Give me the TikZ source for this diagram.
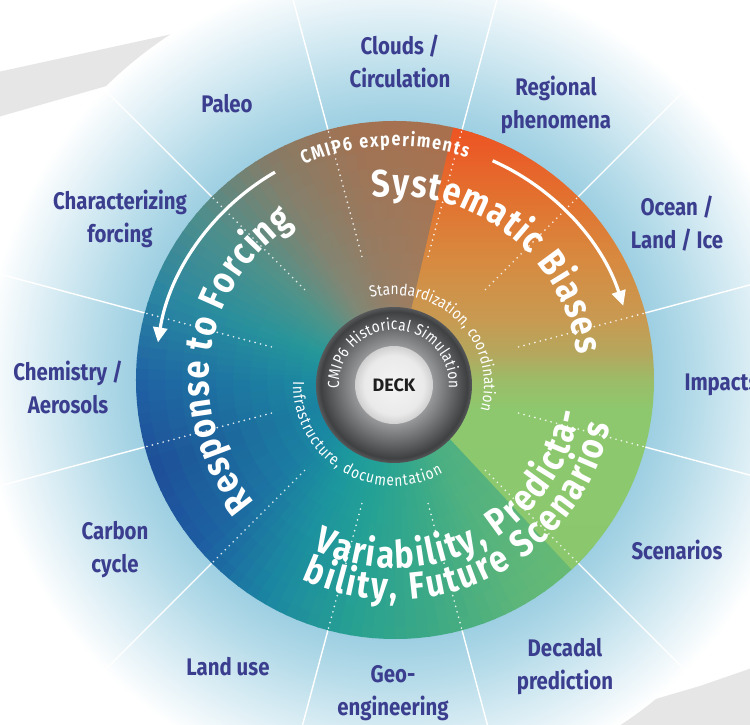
\documentclass[tikz,border=0pt]{standalone}
\usepackage{fontspec}
\setmainfont{Fira Sans}[FakeStretch=0.85]
\newfontfamily\deckfamily{Fira Sans}
\usetikzlibrary{arrows.meta}
\usetikzlibrary{decorations.text}

\definecolor{labelblue}{HTML}{3B3E8E}
\definecolor{swoosh}{HTML}{E6E6E6}
\definecolor{glowin}{HTML}{9DCFE2}
\definecolor{glowmid}{HTML}{B5DBE9}
\definecolor{glowpale}{HTML}{D6EBF3}
\definecolor{ringlight}{HTML}{96989A}
\definecolor{ringdark}{HTML}{3E4042}
\definecolor{ringedge}{HTML}{56585A}
\definecolor{deckin}{HTML}{F4F4F4}
\definecolor{deckmid}{HTML}{EAEAEA}
\definecolor{deckedge}{HTML}{D0D0D0}
\definecolor{deckink}{HTML}{1E1E1E}
% colours round the disc: outer rim / near the ring
\definecolor{out60}{HTML}{B0704C}  \definecolor{in60}{HTML}{A08060}
\definecolor{out80}{HTML}{A8704E}  \definecolor{in80}{HTML}{9C7E62}
\definecolor{out100}{HTML}{A27252} \definecolor{in100}{HTML}{90806A}
\definecolor{out120}{HTML}{857C68} \definecolor{in120}{HTML}{7E8A78}
\definecolor{out140}{HTML}{4E8E8C} \definecolor{in140}{HTML}{4D968A}
\definecolor{out160}{HTML}{2B86A2} \definecolor{in160}{HTML}{259A98}
\definecolor{out180}{HTML}{1F62A4} \definecolor{in180}{HTML}{1C8EA0}
\definecolor{out200}{HTML}{1E4F98} \definecolor{in200}{HTML}{1A88A2}
\definecolor{out220}{HTML}{1D5CA2} \definecolor{in220}{HTML}{1A8EA2}
\definecolor{out240}{HTML}{1B86A2} \definecolor{in240}{HTML}{1C9C9C}
\definecolor{out260}{HTML}{27A092} \definecolor{in260}{HTML}{24A296}
\definecolor{out280}{HTML}{3FAA84} \definecolor{in280}{HTML}{34A88C}
\definecolor{out300}{HTML}{5EB678} \definecolor{in300}{HTML}{48AE84}
\definecolor{out320}{HTML}{6CBC72} \definecolor{in320}{HTML}{52B080}
% systematic biases sector, top to bottom
\definecolor{sba}{HTML}{EE5322}
\definecolor{sbb}{HTML}{EA5C27}
\definecolor{sbc}{HTML}{E2722F}
\definecolor{sbd}{HTML}{D78A40}
\definecolor{sbe}{HTML}{C89A52}
\definecolor{sbf}{HTML}{B3A85E}
\definecolor{sbg}{HTML}{9CBC68}
\definecolor{sbh}{HTML}{8DC86E}
\definecolor{sbi}{HTML}{8AC86C}

\pgfdeclareradialshading{glow}{\pgfpoint{0bp}{0bp}}{color(0bp)=(glowin); color(15.7bp)=(glowin); color(18.2bp)=(glowmid); color(21.2bp)=(glowpale); color(25bp)=(white); color(50bp)=(white)}
\pgfdeclareverticalshading{biasshade}{100bp}{color(0bp)=(sbi); color(25bp)=(sbi); color(47.1bp)=(sbh); color(50bp)=(sbg); color(52.4bp)=(sbf); color(55.8bp)=(sbe); color(61.6bp)=(sbd); color(67.4bp)=(sbc); color(72.2bp)=(sbb); color(75bp)=(sba); color(100bp)=(sba)}
\pgfdeclareradialshading{ringshade}{\pgfpoint{0bp}{0bp}}{color(0bp)=(ringlight); color(12.5bp)=(ringlight); color(23.5bp)=(ringdark); color(25bp)=(ringedge); color(50bp)=(ringedge)}
\pgfdeclareradialshading{deckshade}{\pgfpoint{0bp}{0bp}}{color(0bp)=(deckin); color(19bp)=(deckmid); color(25bp)=(deckedge); color(50bp)=(deckedge)}

\newcommand\lblfont{\bfseries\fontsize{24}{33}\selectfont}
\newcommand\bigarcfont{\bfseries\fontsize{38}{38}\selectfont}
\newcommand\midarcfont{\bfseries\fontsize{19}{19}\selectfont}
\newcommand\smallarcfont{\fontsize{16}{16}\selectfont}
\newcommand\ringfont{\fontsize{16}{16}\selectfont}
\newcommand\deckfont{\deckfamily\bfseries\fontsize{18}{18}\selectfont}

\tikzset{
  lbl/.style={text=labelblue, font=\lblfont, align=center},
  spoke/.style={white, line width=1.4pt},
  dotline/.style={white, line width=1.9pt, line cap=round, dash pattern=on 0pt off 5.6pt, opacity=.85},
  arctext/.style={decorate, decoration={text along path, text color=white, text align=fit to path}},
  turnarrow/.style={white, line width=3.2pt, -{Triangle[length=15pt,width=14pt]}}
}

\begin{document}
\begin{tikzpicture}[x=1pt,y=1pt]
\useasboundingbox (-395,-345) rectangle (355,380);
\fill[white] (-395,-345) rectangle (355,380);
% grey swooshes and the pale blue glow
\fill[swoosh] (-397,308) -- (-195,352) -- (25,382) -- (165,382) -- (-285,295) -- (-397,263) -- cycle;
\fill[swoosh] (165,-347) -- (305,-306) -- (357,-288) -- (357,-347) -- cycle;
\shade[shading=glow] (0,0) circle (412);
\foreach \ang in {15,45,...,345}
  \draw[spoke] (\ang:258) -- (\ang:412);

% research themes
\node[lbl] (clouds) at (5,319) {Clouds /\\Circulation};
\node[lbl] (regional) at (161,275) {Regional\\phenomena};
\node[lbl] (ocean) at (282,156) {Ocean /\\Land / Ice};
\node[lbl, anchor=west] (impacts) at (286,-5) {Impacts};
\node[lbl] (scenarios) at (282,-170) {Scenarios};
\node[lbl] (decadal) at (170,-287) {Decadal\\prediction};
\node[lbl] (geo) at (-2,-313) {Geo-\\engineering};
\node[lbl] (landuse) at (-167,-287) {Land use};
\node[lbl] (carbon) at (-280,-170) {Carbon\\cycle};
\node[lbl] (chemistry) at (-327,-7) {Chemistry /\\Aerosols};
\node[lbl] (charforcing) at (-275,161) {Characterizing\\forcing};
\node[lbl] (paleo) at (-168,276) {Paleo};

% the coloured disc
\begin{scope}
\clip (0,0) circle (259);
\foreach \ang in {60,80,...,300}{
  \pgfmathtruncatemacro\nxt{\ang+20}
  \foreach \sub in {0,...,7}{
    \pgfmathsetmacro\sa{\ang+2.5*\sub}
    \pgfmathsetmacro\ea{\sa+2.9}
    \pgfmathsetmacro\pc{12.5*\sub+6.25}
    \colorlet{ocol}{out\nxt!\pc!out\ang}
    \colorlet{icol}{in\nxt!\pc!in\ang}
    \foreach \band in {0,...,11}{
      \pgfmathtruncatemacro\qc{round(100*\band/11)}
      \pgfmathsetmacro\rin{60+17*\band}
      \pgfmathsetmacro\rout{\rin+18.5}
      \fill[ocol!\qc!icol] (\sa:\rin) arc[start angle=\sa, end angle=\ea, radius=\rin]
        -- (\ea:\rout) arc[start angle=\ea, end angle=\sa, radius=\rout] -- cycle;
    }
  }
}
\begin{scope}
\clip (0,0) -- (-47:270) arc[start angle=-47, end angle=77, radius=270] -- cycle;
\shade[shading=biasshade] (0,-259) rectangle (259,259);
\end{scope}
\end{scope}
\foreach \ang in {15,45,...,345}
  \draw[dotline] (\ang:128) -- (\ang:257);

% themes written round the disc
\path[arctext, decoration={text={|\midarcfont|CMIP6 experiments}}] (113:234) arc[start angle=113, end angle=72, radius=234];
\path[arctext, decoration={text={|\bigarcfont|Systematic Biases}}] (97:184) arc[start angle=97, end angle=8, radius=184];
\path[arctext, decoration={text={|\bigarcfont|Response to Forcing}}] (221:186) arc[start angle=221, end angle=123, radius=186];
\path[arctext, decoration={text={|\bigarcfont|Variability, Predicta-}}] (244:188) arc[start angle=244, end angle=350, radius=188];
\path[arctext, decoration={text={|\bigarcfont|bility, Future Scenarios}}] (245:220) arc[start angle=245, end angle=348, radius=220];
\draw[turnarrow] (66:240) arc[start angle=66, end angle=18, radius=240];
\draw[turnarrow] (120:240) arc[start angle=120, end angle=171, radius=240];

% DECK and its rings
\begin{scope}[shift={(-1,-5)}]
\shade[shading=ringshade] (0,0) circle (78);
\shade[shading=deckshade] (0,0) circle (39);
\node[font=\deckfont, text=deckink] (deck) at (0,0) {DECK};
\path[arctext, decoration={text={|\ringfont|CMIP6 Historical Simulation}}] (184:55) arc[start angle=184, end angle=-4, radius=55];
\path[arctext, decoration={text={|\smallarcfont|Standardization, coordination}}] (105:90) arc[start angle=105, end angle=-16, radius=90];
\path[arctext, decoration={text={|\smallarcfont|Infrastructure, documentation}}] (178:101) arc[start angle=178, end angle=299, radius=101];
\end{scope}
\end{tikzpicture}
\end{document}
